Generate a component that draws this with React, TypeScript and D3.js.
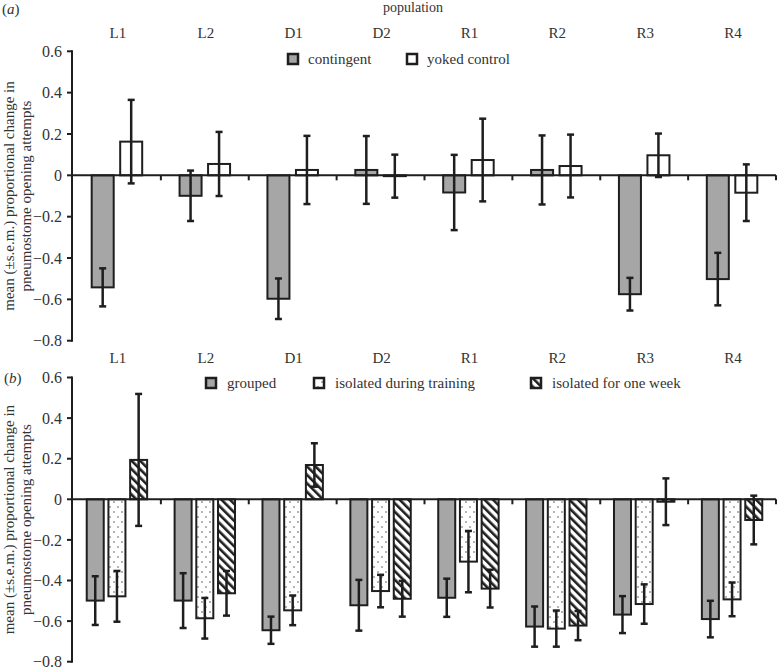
import React, { useEffect, useRef } from 'react'
import * as d3 from 'd3'

// populations along the x axis
const categories = ['L1', 'L2', 'D1', 'D2', 'R1', 'R2', 'R3', 'R4']
const yTicks = [0.6, 0.4, 0.2, 0, -0.2, -0.4, -0.6, -0.8]

// panel (a)
const seriesA = ['contingent', 'yoked control']
const contingentMean = [-0.542, -0.099, -0.597, 0.026, -0.083, 0.026, -0.575, -0.502]
const contingentSem = [0.092, 0.122, 0.098, 0.164, 0.182, 0.167, 0.079, 0.127]
const yokedMean = [0.163, 0.055, 0.026, -0.004, 0.074, 0.045, 0.097, -0.084]
const yokedSem = [0.202, 0.155, 0.165, 0.104, 0.2, 0.152, 0.105, 0.137]

// panel (b)
const seriesB = ['grouped', 'isolated during training', 'isolated for one week']
const groupedMean = [-0.499, -0.499, -0.645, -0.522, -0.485, -0.627, -0.568, -0.59]
const groupedSem = [0.12, 0.135, 0.067, 0.125, 0.094, 0.099, 0.091, 0.09]
const isoTrainMean = [-0.478, -0.586, -0.547, -0.452, -0.307, -0.637, -0.516, -0.493]
const isoTrainSem = [0.125, 0.1, 0.073, 0.08, 0.151, 0.089, 0.097, 0.083]
const isoWeekMean = [0.194, -0.463, 0.169, -0.49, -0.44, -0.622, -0.012, -0.102]
const isoWeekSem = [0.325, 0.11, 0.107, 0.088, 0.093, 0.072, 0.115, 0.12]

const FONT = '"Liberation Serif", "Times New Roman", serif'
const INK = '#1e1e1e'

const App = () => {
  const svgRef = useRef<SVGSVGElement>(null)

  useEffect(() => {
    const svg = d3.select(svgRef.current)
    svg.selectAll('*').remove()

    const defs = svg.append('defs')
    const dots = defs
      .append('pattern')
      .attr('id', 'dots')
      .attr('patternUnits', 'userSpaceOnUse')
      .attr('width', 8)
      .attr('height', 10)
    dots.append('rect').attr('width', 8).attr('height', 10).attr('fill', 'white')
    dots.append('circle').attr('cx', 2).attr('cy', 2).attr('r', 0.8).attr('fill', '#555')
    dots.append('circle').attr('cx', 6).attr('cy', 7).attr('r', 0.8).attr('fill', '#555')

    const hatch = defs
      .append('pattern')
      .attr('id', 'hatch')
      .attr('patternUnits', 'userSpaceOnUse')
      .attr('width', 6)
      .attr('height', 6)
      .attr('patternTransform', 'rotate(-45)')
    hatch.append('rect').attr('width', 6).attr('height', 6).attr('fill', 'white')
    hatch.append('rect').attr('width', 2.6).attr('height', 6).attr('fill', INK)

    const x0 = 73
    const x1 = 776
    const x = d3.scaleBand().domain(categories).range([x0, x1]).padding(0)

    const drawPanel = (opts: {
      top: number
      bottom: number
      tag: string
      labelY: number
      series: { name: string; mean: number[]; sem: number[]; fill: string }[]
      spacing: number
      barW: number
      legend: { x: number; tx: number }[]
      legendY: number
    }) => {
      const y = d3.scaleLinear().domain([-0.8, 0.6]).range([opts.bottom, opts.top])
      const g = svg.append('g')
      const n = opts.series.length

      // bars
      opts.series.forEach((s, si) => {
        const off = (si - (n - 1) / 2) * opts.spacing
        categories.forEach((c, ci) => {
          const cx = (x(c) as number) + x.bandwidth() / 2 + off
          const v = s.mean[ci]
          g.append('rect')
            .attr('x', cx - opts.barW / 2)
            .attr('y', y(Math.max(0, v)))
            .attr('width', opts.barW)
            .attr('height', Math.abs(y(v) - y(0)))
            .attr('fill', s.fill)
            .attr('stroke', INK)
            .attr('stroke-width', 2)
        })
      })

      // zero line and category ticks
      g.append('line')
        .attr('x1', x0 - 1)
        .attr('x2', x1)
        .attr('y1', y(0))
        .attr('y2', y(0))
        .attr('stroke', INK)
        .attr('stroke-width', 2)
      categories.forEach((c) => {
        const bx = (x(c) as number) + x.bandwidth()
        g.append('line')
          .attr('x1', bx)
          .attr('x2', bx)
          .attr('y1', y(0))
          .attr('y2', y(0) + 5)
          .attr('stroke', INK)
          .attr('stroke-width', 2)
      })

      // error bars
      opts.series.forEach((s, si) => {
        const off = (si - (n - 1) / 2) * opts.spacing
        categories.forEach((c, ci) => {
          const cx = (x(c) as number) + x.bandwidth() / 2 + off
          const lo = y(s.mean[ci] - s.sem[ci])
          const hi = y(s.mean[ci] + s.sem[ci])
          g.append('line')
            .attr('x1', cx)
            .attr('x2', cx)
            .attr('y1', lo)
            .attr('y2', hi)
            .attr('stroke', INK)
            .attr('stroke-width', 2.5)
          ;[lo, hi].forEach((yy) => {
            g.append('line')
              .attr('x1', cx - 3.5)
              .attr('x2', cx + 3.5)
              .attr('y1', yy)
              .attr('y2', yy)
              .attr('stroke', INK)
              .attr('stroke-width', 2.5)
          })
        })
      })

      // y axis
      g.append('line')
        .attr('x1', x0 - 1)
        .attr('x2', x0 - 1)
        .attr('y1', y(0.6) - 1)
        .attr('y2', y(-0.8) + 1)
        .attr('stroke', INK)
        .attr('stroke-width', 2)
      yTicks.forEach((t) => {
        g.append('line')
          .attr('x1', x0 - 6)
          .attr('x2', x0 - 1)
          .attr('y1', y(t))
          .attr('y2', y(t))
          .attr('stroke', INK)
          .attr('stroke-width', 2)
        g.append('text')
          .attr('x', x0 - 11)
          .attr('y', y(t))
          .attr('dy', '0.35em')
          .attr('text-anchor', 'end')
          .attr('font-family', FONT)
          .attr('font-size', 16)
          .attr('fill', '#333')
          .text(t === 0 ? '0' : d3.format('.1f')(t))
      })

      // category labels
      categories.forEach((c) => {
        g.append('text')
          .attr('x', (x(c) as number) + x.bandwidth() / 2 + 1)
          .attr('y', opts.labelY)
          .attr('text-anchor', 'middle')
          .attr('font-family', FONT)
          .attr('font-size', 15)
          .attr('fill', '#333')
          .text(c)
      })

      // y label
      const midY = (y(0.6) + y(-0.8)) / 2
      const yl = g
        .append('text')
        .attr('transform', `translate(0, ${midY}) rotate(-90)`)
        .attr('text-anchor', 'middle')
        .attr('font-family', FONT)
        .attr('font-size', 15)
        .attr('fill', '#333')
      yl.append('tspan').attr('x', 0).attr('y', 14).text('mean (±s.e.m.) proportional change in')
      yl.append('tspan').attr('x', 0).attr('y', 31).text('pneumostome opening attempts')

      // panel tag
      g.append('text')
        .attr('x', opts.tag === '(a)' ? 2 : 4)
        .attr('y', opts.tag === '(a)' ? 14 : y(0.6) + 5)
        .attr('font-family', FONT)
        .attr('font-size', 15)
        .attr('fill', '#333')
        .html(`(<tspan font-style="italic">${opts.tag[1]}</tspan>)`)

      // legend
      opts.series.forEach((s, si) => {
        const l = opts.legend[si]
        g.append('rect')
          .attr('x', l.x)
          .attr('y', opts.legendY - 5)
          .attr('width', 10)
          .attr('height', 10)
          .attr('fill', s.fill)
          .attr('stroke', INK)
          .attr('stroke-width', 2.5)
        g.append('text')
          .attr('x', l.tx)
          .attr('y', opts.legendY)
          .attr('dy', '0.35em')
          .attr('font-family', FONT)
          .attr('font-size', 15)
          .attr('fill', '#333')
          .text(s.name)
      })
    }

    drawPanel({
      top: 51.3,
      bottom: 340.7,
      tag: '(a)',
      labelY: 38,
      series: [
        { name: seriesA[0], mean: contingentMean, sem: contingentSem, fill: '#a6a6a6' },
        { name: seriesA[1], mean: yokedMean, sem: yokedSem, fill: 'white' },
      ],
      spacing: 28.5,
      barW: 22,
      legend: [
        { x: 288, tx: 308 },
        { x: 407, tx: 427 },
      ],
      legendY: 59,
    })

    drawPanel({
      top: 377.5,
      bottom: 661.7,
      tag: '(b)',
      labelY: 363,
      series: [
        { name: seriesB[0], mean: groupedMean, sem: groupedSem, fill: '#a6a6a6' },
        { name: seriesB[1], mean: isoTrainMean, sem: isoTrainSem, fill: 'url(#dots)' },
        { name: seriesB[2], mean: isoWeekMean, sem: isoWeekSem, fill: 'url(#hatch)' },
      ],
      spacing: 21.7,
      barW: 17,
      legend: [
        { x: 206, tx: 227 },
        { x: 314, tx: 335 },
        { x: 531, tx: 552 },
      ],
      legendY: 383,
    })

    svg
      .append('text')
      .attr('x', 413)
      .attr('y', 12)
      .attr('text-anchor', 'middle')
      .attr('font-family', FONT)
      .attr('font-size', 14)
      .attr('fill', '#333')
      .text('population')
  }, [])

  return (
    <svg
      ref={svgRef}
      width={778}
      height={670}
      style={{ position: 'absolute', left: 0, top: 0, background: 'white' }}
    ></svg>
  )
}

export default App
